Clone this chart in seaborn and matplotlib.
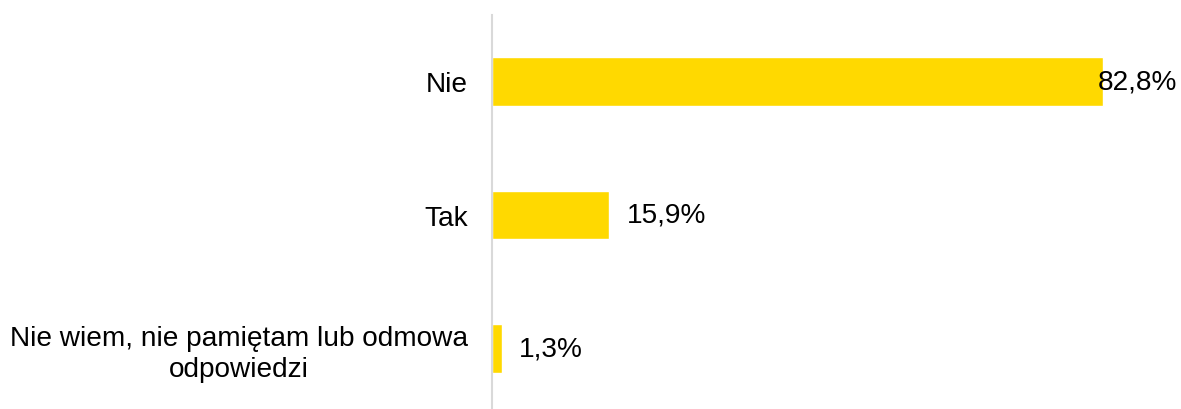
import pandas as pd
import seaborn as sns
import matplotlib.pyplot as plt

# Survey answers and their shares (%)
categories = ["Nie", "Tak", "Nie wiem, nie pamiętam lub odmowa\nodpowiedzi"]
values = [82.8, 15.9, 1.3]
value_labels = ["82,8%", "15,9%", "1,3%"]

df = pd.DataFrame({"category": categories, "value": values})

sns.set_style("white")
plt.rcParams['font.family'] = ['Liberation Sans', 'DejaVu Sans']
plt.rcParams['text.color'] = 'black'
plt.rcParams['ytick.color'] = 'black'
plt.rcParams['ytick.labelcolor'] = 'black'

W, H = 1181, 410
fig = plt.figure(figsize=(W / 100, H / 100), dpi=100)
# axes: left edge at the grey axis line, top at 16px, runs off the bottom
ax = fig.add_axes([492 / W, 0, 1 - 492 / W, (H - 16) / H])

sns.barplot(data=df, y="category", x="value", orient="h", color="#FFD900",
            saturation=1, width=0.36, ax=ax)

px_per_unit = (1102.7 - 492) / 82.8
xmax = (W - 492) / px_per_unit
ax.set_xlim(0, xmax)
ax.set_ylim(2 + (410 - 349.5) / 133.5, -(82.5 - 16) / 133.5)

# value labels just past the bar end, pulled in if they would run off the figure
for i, (v, lab) in enumerate(zip(values, value_labels)):
    x = v + 17.5 / px_per_unit
    if x + 80 / px_per_unit > xmax:
        ax.text(xmax - 4 / px_per_unit, i, lab, ha="right", va="center",
                fontsize=20.2, color="black")
    else:
        ax.text(x, i, lab, ha="left", va="center", fontsize=20.2, color="black")

for s in ["top", "right", "bottom"]:
    ax.spines[s].set_visible(False)
ax.spines["left"].set_color("#D9D9D9")
ax.spines["left"].set_linewidth(1.5)

ax.set_xticks([])
ax.set_xlabel("")
ax.set_ylabel("")
ax.tick_params(axis="y", length=0, pad=17.5, labelsize=20.2, labelcolor="black")
for t in ax.get_yticklabels():
    t.set_multialignment("center")
    t.set_linespacing(1.25)

plt.savefig("out.png", dpi=100)
plt.close()
